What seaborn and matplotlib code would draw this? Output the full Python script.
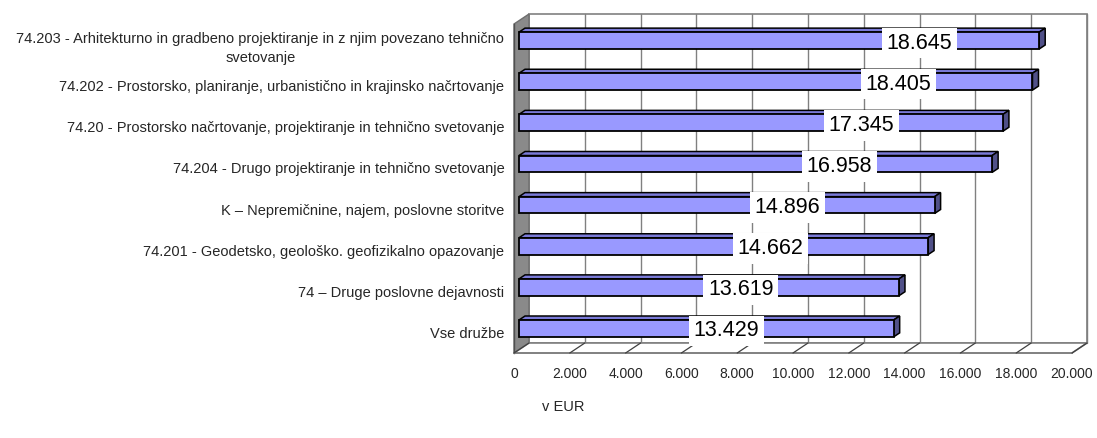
import matplotlib
matplotlib.use("Agg")
import matplotlib.pyplot as plt
import seaborn as sns
import pandas as pd
from matplotlib.patches import Polygon
from matplotlib.lines import Line2D
from matplotlib.ticker import FixedLocator

# ---------------- data ----------------
categories = [
    "74.203 - Arhitekturno in gradbeno projektiranje in z njim povezano tehnično\nsvetovanje",
    "74.202 - Prostorsko, planiranje, urbanistično in krajinsko načrtovanje",
    "74.20 - Prostorsko načrtovanje, projektiranje in tehnično svetovanje",
    "74.204 - Drugo projektiranje in tehnično svetovanje",
    "K – Nepremičnine, najem, poslovne storitve",
    "74.201 - Geodetsko, geološko. geofizikalno opazovanje",
    "74 – Druge poslovne dejavnosti",
    "Vse družbe",
]
values = [18645, 18405, 17345, 16958, 14896, 14662, 13619, 13429]
value_labels = ["18.645", "18.405", "17.345", "16.958", "14.896", "14.662", "13.619", "13.429"]
x_ticks = [0, 2000, 4000, 6000, 8000, 10000, 12000, 14000, 16000, 18000, 20000]
x_tick_labels = ["0", "2.000", "4.000", "6.000", "8.000", "10.000", "12.000",
                 "14.000", "16.000", "18.000", "20.000"]
axis_title = "v EUR"

# ---------------- style ----------------
sns.set_style("white")
plt.rcParams["font.family"] = ["Liberation Sans", "DejaVu Sans"]

W, H = 1097, 438
fig = plt.figure(figsize=(W / 100, H / 100), dpi=100)
L, R, T, B = 514, 1072, 24, 353
ax = fig.add_axes([L / W, 1 - B / H, (R - L) / W, (B - T) / H])

df = pd.DataFrame({"cat": categories, "val": values})
sns.barplot(data=df, x="val", y="cat", orient="h", color="#9999FF", saturation=1,
            width=0.41, edgecolor="black", linewidth=1.3, ax=ax, zorder=6)

XMAX = x_ticks[-1]
n = len(categories)
ax.set_xlim(0, XMAX)
ax.set_ylim(n - 0.5, -0.5)
xs = XMAX / (R - L)      # data units per pixel (x)
ys = n / (B - T)         # data units per pixel (y)


def P(x, y, dx, dy):
    """shift a data point by dx px right and dy px up"""
    return (x + dx * xs, y - dy * ys)


WDX, WDY = 15, 10        # wall depth in px
grid_c = "#808080"

# back wall
ax.add_patch(Polygon([P(0, n - 0.5, WDX, WDY), P(XMAX, n - 0.5, WDX, WDY),
                      P(XMAX, -0.5, WDX, WDY), P(0, -0.5, WDX, WDY)],
                     closed=True, fc="white", ec=grid_c, lw=1.2, zorder=0, clip_on=False))
for t in x_ticks[1:]:
    x0, y0 = P(t, n - 0.5, WDX, WDY)
    x1, y1 = P(t, -0.5, WDX, WDY)
    ax.add_line(Line2D([x0, x1], [y0, y1], color=grid_c, lw=1.0, zorder=1, clip_on=False))

# left wall
ax.add_patch(Polygon([(0, n - 0.5), (0, -0.5), P(0, -0.5, WDX, WDY), P(0, n - 0.5, WDX, WDY)],
                     closed=True, fc="#8a8a8a", ec="#6e6e6e", lw=1.0, zorder=2, clip_on=False))
# floor
ax.add_patch(Polygon([(0, n - 0.5), (XMAX, n - 0.5), P(XMAX, n - 0.5, WDX, WDY), P(0, n - 0.5, WDX, WDY)],
                     closed=True, fc="white", ec=grid_c, lw=1.2, zorder=2, clip_on=False))
for t in x_ticks:
    x0, y0 = (t, n - 0.5)
    x1, y1 = P(t, n - 0.5, WDX, WDY)
    ax.add_line(Line2D([x0, x1], [y0, y1], color="#404040", lw=0.9, zorder=3, clip_on=False))

# 3D bars
FDX, FDY = 5, 4      # front face offset
DDX, DDY = 6, 4      # bar depth
bars = [pp for pp in ax.patches if pp.get_zorder() == 6]
for i, p in enumerate(bars):
    p.set_x(p.get_x() + FDX * xs)
    p.set_y(p.get_y() - FDY * ys)
    a = p.get_x()
    w = p.get_width()
    b = a + w
    top = p.get_y()
    bot = top + p.get_height()
    ax.add_patch(Polygon([(a, top), (b, top), P(b, top, DDX, DDY), P(a, top, DDX, DDY)],
                         closed=True, fc="#7a7ad8", ec="black", lw=1.1, zorder=5, clip_on=False))
    ax.add_patch(Polygon([(b, top), (b, bot), P(b, bot, DDX, DDY), P(b, top, DDX, DDY)],
                         closed=True, fc="#505088", ec="black", lw=1.1, zorder=5, clip_on=False))
    frac = 0.77 - 0.031 * i
    lx, ly = P(a + frac * w, (top + bot) / 2, 0, -2.5)
    ax.text(lx, ly, value_labels[i], ha="center", va="center",
            fontsize=15.5, color="black", zorder=8,
            bbox=dict(boxstyle="square,pad=0.22", fc="white", ec="none"))

# axes styling
for s in ["top", "right"]:
    ax.spines[s].set_visible(False)
ax.spines["left"].set_color("#505050")
ax.spines["left"].set_linewidth(1.0)
ax.spines["bottom"].set_color(grid_c)
ax.spines["bottom"].set_linewidth(1.2)
ax.set_xticks(x_ticks)
ax.set_xticklabels(x_tick_labels)
ax.tick_params(axis="x", length=5, width=1, color="#404040", pad=5, labelsize=10)
ax.set_yticks(range(n))
ax.set_yticklabels(categories, multialignment="center", linespacing=1.45)
ax.yaxis.set_minor_locator(FixedLocator([k - 0.5 for k in range(n + 1)]))
ax.tick_params(axis="y", which="major", length=0, pad=7, labelsize=10.5)
ax.tick_params(axis="y", which="minor", length=6, width=1, color="#404040")
ax.set_xlabel("")
ax.set_ylabel("")
ax.grid(False)
ax.set_facecolor("none")

fig.text(563 / W, 1 - 407 / H, axis_title, ha="center", va="center", fontsize=10.5)

fig.savefig("out.png", dpi=100)
